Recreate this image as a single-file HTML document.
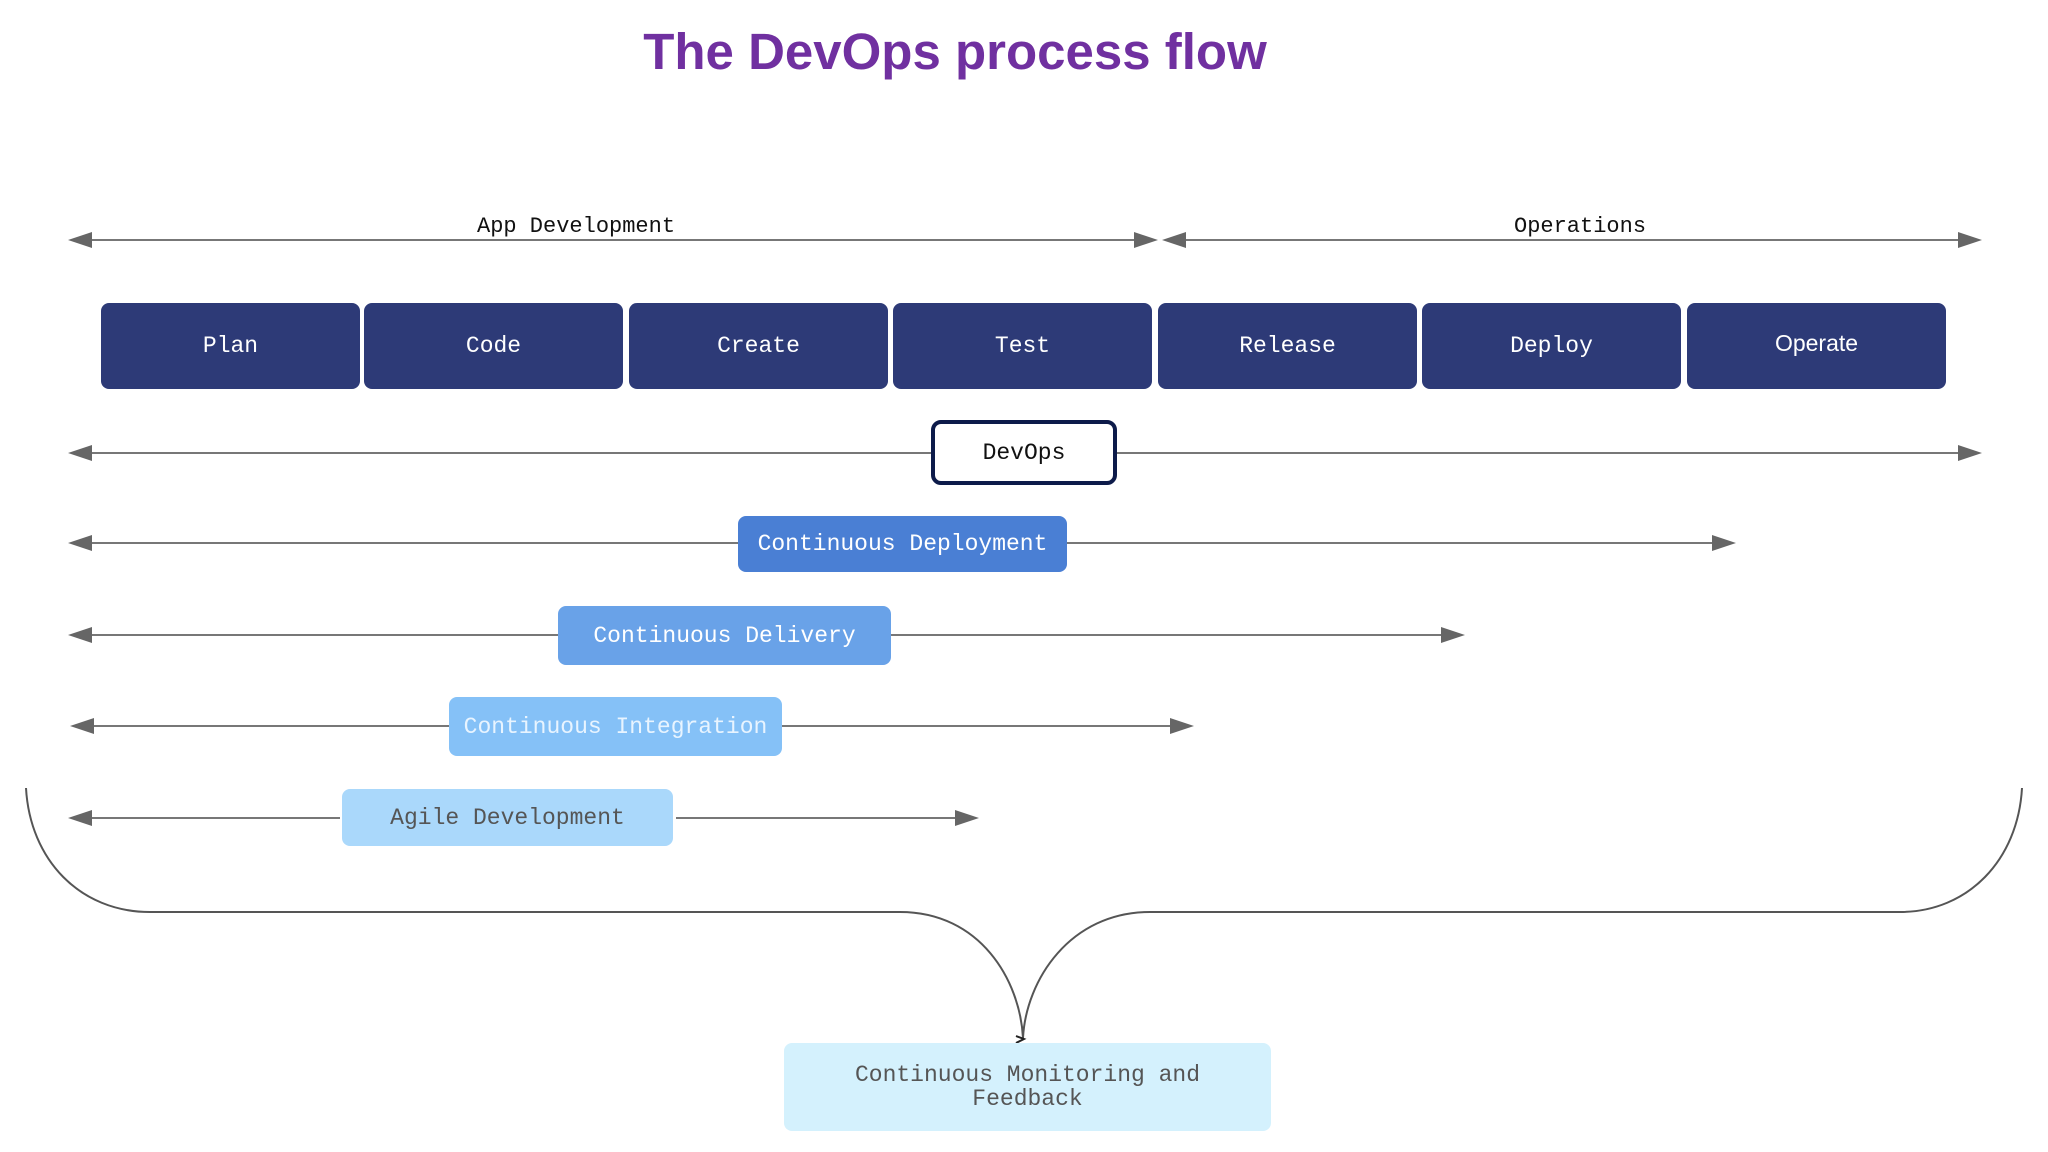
<!DOCTYPE html>
<html><head><meta charset="utf-8"><style>
body{margin:0;width:2048px;height:1152px;background:#fff;position:relative;overflow:hidden;font-family:"Liberation Mono",monospace}
.t{position:absolute;left:0;width:1910px;top:22px;text-align:center;font:bold 51px "Liberation Sans",sans-serif;color:#7030a0}
.b{position:absolute;display:flex;align-items:center;justify-content:center;font-size:23px;border-radius:8px;box-sizing:border-box;text-align:center}
.s{background:#2d3a77;color:#fff;top:303px;height:86px;width:259px}
.l{position:absolute;font-size:22px;color:#111}
</style></head><body>
<div class="t">The DevOps process flow</div>
<svg width="2048" height="1152" style="position:absolute;left:0;top:0">
<g stroke="#777" stroke-width="2">
<line x1="90" y1="240" x2="1140" y2="240"/>
<line x1="1180" y1="240" x2="1960" y2="240"/>
<line x1="90" y1="453" x2="1960" y2="453"/>
<line x1="90" y1="543" x2="1715" y2="543"/>
<line x1="90" y1="635" x2="1445" y2="635"/>
<line x1="92" y1="726" x2="1175" y2="726"/>
<line x1="90" y1="818" x2="340" y2="818"/>
<line x1="676" y1="818" x2="960" y2="818"/>
</g>
<g fill="#666">
<path d="M68 240l24-8v16z"/><path d="M1158 240l-24-8v16z"/>
<path d="M1162 240l24-8v16z"/><path d="M1982 240l-24-8v16z"/>
<path d="M68 453l24-8v16z"/><path d="M1982 453l-24-8v16z"/>
<path d="M68 543l24-8v16z"/><path d="M1736 543l-24-8v16z"/>
<path d="M68 635l24-8v16z"/><path d="M1465 635l-24-8v16z"/>
<path d="M70 726l24-8v16z"/><path d="M1194 726l-24-8v16z"/>
<path d="M68 818l24-8v16z"/><path d="M979 818l-24-8v16z"/>
</g>
<g stroke="#555" stroke-width="2" fill="none">
<path d="M26 788C30 860 80 912 150 912H900C980 912 1020 980 1023 1038"/>
<path d="M2022 788C2018 860 1968 912 1900 912H1150C1070 912 1026 980 1023 1038"/>
<path d="M1016 1036l8 3-8 4" stroke="#222"/>
</g>
</svg>
<div class="l" style="left:477px;top:214px">App Development</div>
<div class="l" style="left:1514px;top:214px">Operations</div>
<div class="b s" style="left:101px">Plan</div>
<div class="b s" style="left:364px">Code</div>
<div class="b s" style="left:629px">Create</div>
<div class="b s" style="left:893px">Test</div>
<div class="b s" style="left:1158px">Release</div>
<div class="b s" style="left:1422px">Deploy</div>
<div class="b s" style="left:1687px;font-family:'Liberation Sans',sans-serif;padding-bottom:6px">Operate</div>
<div class="b" style="left:931px;top:420px;width:186px;height:65px;border:4px solid #0d1b4a;background:#fff;color:#111;border-radius:10px">DevOps</div>
<div class="b" style="left:738px;top:516px;width:329px;height:56px;background:#4a7fd4;color:#fff">Continuous Deployment</div>
<div class="b" style="left:558px;top:606px;width:333px;height:59px;background:#69a2e8;color:#fff">Continuous Delivery</div>
<div class="b" style="left:449px;top:697px;width:333px;height:59px;background:#85c1f7;color:#e8f4ff">Continuous Integration</div>
<div class="b" style="left:342px;top:789px;width:331px;height:57px;background:#aad8fb;color:#555">Agile Development</div>
<div class="b" style="left:784px;top:1043px;width:487px;height:88px;background:#d4f1fd;color:#555;line-height:24px">Continuous Monitoring and<br>Feedback</div>
</body></html>
